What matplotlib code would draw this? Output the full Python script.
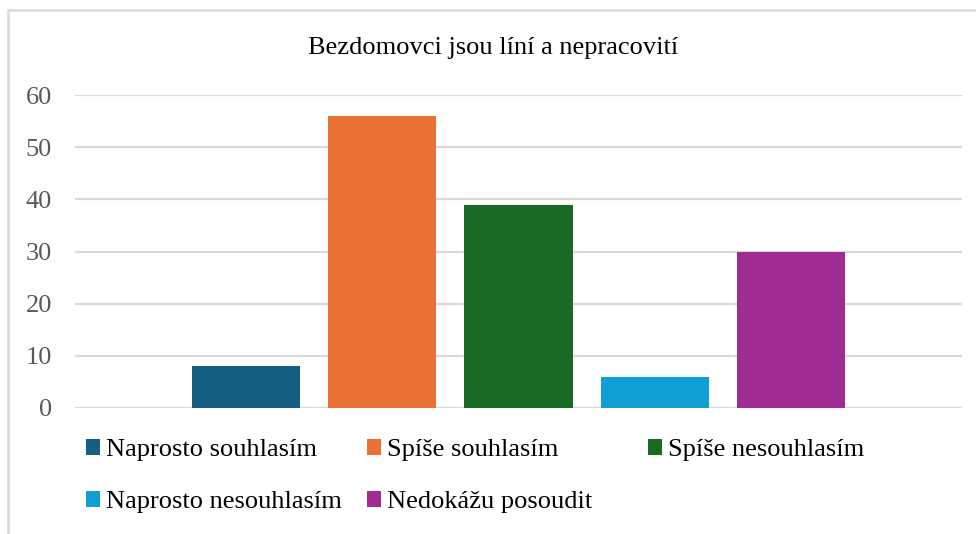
import matplotlib
matplotlib.use("Agg")
import matplotlib.pyplot as plt
from matplotlib.patches import Rectangle, Patch

title = "Bezdomovci jsou líní a nepracovití"
series = ["Naprosto souhlasím", "Spíše souhlasím", "Spíše nesouhlasím",
          "Naprosto nesouhlasím", "Nedokážu posoudit"]
values = [8, 56, 39, 6, 30]
colors = ["#156082", "#E97132", "#196B24", "#0F9ED5", "#A02B93"]
yticks = [0, 10, 20, 30, 40, 50, 60]

plt.rcParams['font.family'] = ['Liberation Serif', 'DejaVu Serif']

W, H = 976, 534
fig = plt.figure(figsize=(W / 100, H / 100), dpi=100)
fig.patch.set_facecolor("white")

# chart-area border (partially visible)
fig.patches.append(Rectangle((7.5 / W, -0.1), 1.2, 1.1 - 10.5 / H,
                             transform=fig.transFigure, fill=False,
                             edgecolor="#D9D9D9", linewidth=1.8))

ax = fig.add_axes([75 / W, (H - 408) / H, (962 - 75) / W, (408 - 95) / H])
ax.set_facecolor("none")

xs = list(range(len(values)))
ax.bar(xs, values, width=0.794, color=colors, zorder=3)
ax.set_xlim(-1.257, len(values) - 1 + 1.257)
ax.set_ylim(0, 60)
ax.set_yticks(yticks)
ax.set_xticks([])
for s in ax.spines.values():
    s.set_visible(False)
ax.yaxis.grid(True, color="#D9D9D9", linewidth=1.6, zorder=0)
ax.tick_params(axis="y", length=0, pad=16.5, labelsize=19, labelcolor="#595959")

fig.text(493.5 / W, 1 - 48 / H, title, ha="center", va="center",
         fontsize=19, color="#000000")

# legend: three columns, row-major order
handles = [Patch(facecolor=c, edgecolor="none") for c in colors]
col_x = [86, 367, 648]
cols = [[0, 3], [1, 4], [2]]
for cx, idx in zip(col_x, cols):
    fig.legend([handles[i] for i in idx], [series[i] for i in idx],
               loc="upper left", bbox_to_anchor=(cx / W, 1 - 439 / H),
               frameon=False, fontsize=19, handlelength=0.53, handleheight=0.53,
               handletextpad=0.22, labelspacing=1.13, borderpad=0,
               borderaxespad=0)

fig.savefig("out.png", dpi=100, facecolor="white")
